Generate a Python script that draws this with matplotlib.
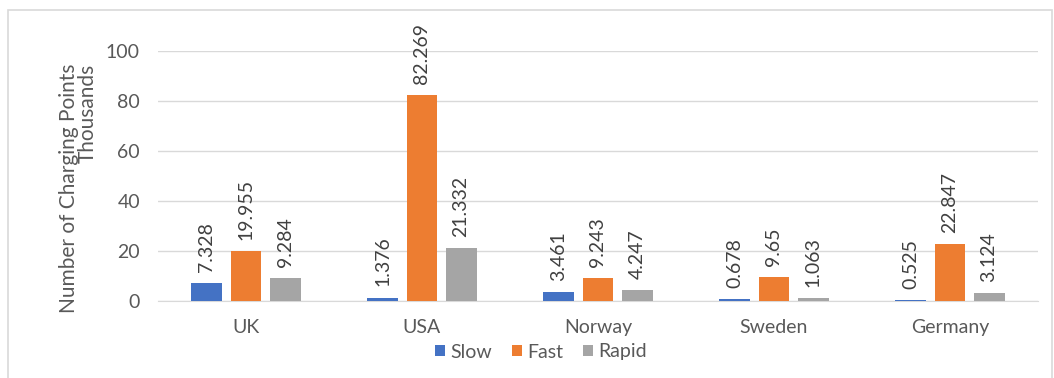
import numpy as np
import matplotlib.pyplot as plt
from matplotlib.patches import Rectangle

# data (thousands of charging points)
countries = ['UK', 'USA', 'Norway', 'Sweden', 'Germany']
slow = [7.328, 1.376, 3.461, 0.678, 0.525]
fast = [19.955, 82.269, 9.243, 9.65, 22.847]
rapid = [9.284, 21.332, 4.247, 1.063, 3.124]
series_names = ['Slow', 'Fast', 'Rapid']
yticks = [0, 20, 40, 60, 80, 100]

colors = ['#4472C4', '#ED7D31', '#A5A5A5']
txt = '#595959'
plt.rcParams['font.family'] = ['Lato', 'DejaVu Sans']

fig = plt.figure(figsize=(10.54, 3.78), dpi=100)
ax = fig.add_axes([158/1054, 1 - 301/378, 880/1054, 250/378])

# chart border
fig.patches.append(Rectangle((8/1054, -10/378), 1044/1054, 378/378, transform=fig.transFigure,
                             fill=False, edgecolor='#D9D9D9', linewidth=1.2))

x = np.arange(len(countries))
w = 0.176
step = 0.222
for i, (vals, name) in enumerate(zip([slow, fast, rapid], series_names)):
    bars = ax.bar(x + (i - 1) * step, vals, width=w, color=colors[i], label=name, zorder=3)
    for b, v in zip(bars, vals):
        ax.annotate(f'{v:g}', (b.get_x() + b.get_width() / 2, v), xytext=(0, 8),
                    textcoords='offset points', rotation=90, ha='center', va='bottom',
                    fontsize=14, color='#404040', annotation_clip=False)

ax.set_xlim(-0.5, len(countries) - 0.5)
ax.set_ylim(0, 100)
ax.set_yticks(yticks)
ax.set_xticks(x)
ax.set_xticklabels(countries)
ax.yaxis.grid(True, color='#D9D9D9', linewidth=1, zorder=0)
ax.tick_params(axis='both', length=0, colors=txt, labelsize=14)
ax.tick_params(axis='x', pad=13)
ax.tick_params(axis='y', pad=13)
for s in ['top', 'right', 'left']:
    ax.spines[s].set_visible(False)
ax.spines['bottom'].set_color('#D9D9D9')
ax.set_ylabel('Number of Charging Points\nThousands', color=txt, fontsize=15,
              linespacing=0.95, multialignment='right')
ax.yaxis.set_label_coords(-60/880, 0.45)

fig.legend(loc='center', bbox_to_anchor=(541/1054, 1 - 352/378), ncol=3, frameon=False,
           fontsize=14, handlelength=0.5, handleheight=0.5, handletextpad=0.3,
           columnspacing=1.0, labelcolor=txt)

fig.savefig('out.png', dpi=100)
